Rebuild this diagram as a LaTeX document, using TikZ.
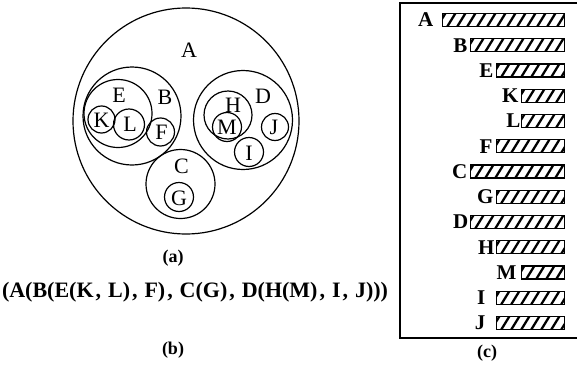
\documentclass[tikz,border=0pt]{standalone}
\usepackage{fontspec}
\setmainfont{Liberation Serif}
\newcommand{\cm}{\hskip 0pt plus 0.3fill\relax,\hskip 0pt plus 1fill\relax}
\begin{document}
\begin{tikzpicture}[x=1pt,y=-1pt,
  ring/.style={draw,circle,line width=1.2pt,inner sep=0pt},
  clab/.style={font=\fontsize{22}{22}\selectfont,inner sep=0pt},
  blab/.style={font=\bfseries\fontsize{21}{21}\selectfont,inner sep=0pt,anchor=east},
  captext/.style={font=\bfseries\fontsize{18}{18}\selectfont,inner sep=0pt},
  bar/.style={draw,line width=1.4pt,minimum height=13pt,inner sep=0pt,anchor=east,
    path picture={\foreach \k in {0,...,14}
      \draw[line width=2.3pt] ([xshift=\k*10pt-5pt]path picture bounding box.south west) -- ++(8pt,13pt);}}]
\useasboundingbox (0,0) rectangle (577,364);
% panel (a)
\node[ring,minimum size=226pt] (cA) at (186,121) {};
\node[ring,minimum size=98pt] (cB) at (132,116) {};
\node[ring,minimum size=68pt] (cE) at (118,113.5) {};
\node[ring,minimum size=27pt] (cK) at (101.5,119.5) {};
\node[ring,minimum size=31pt] (cL) at (129,124.5) {};
\node[ring,minimum size=28pt] (cF) at (160.5,132) {};
\node[ring,minimum size=69pt] (cC) at (180.5,184) {};
\node[ring,minimum size=29pt] (cG) at (179,197) {};
\node[ring,minimum size=99pt] (cD) at (243,120) {};
\node[ring,minimum size=48pt] (cH) at (228,115) {};
\node[ring,minimum size=29pt] (cM) at (227,127) {};
\node[ring,minimum size=29pt] (cI) at (249,152) {};
\node[ring,minimum size=27pt] (cJ) at (275,127) {};
\node[clab] (tA) at (189,50) {A};
\node[clab] (tB) at (165,97) {B};
\node[clab] (tE) at (119,95) {E};
\node[clab] (tK) at (101.5,120) {K};
\node[clab] (tL) at (130,124) {L};
\node[clab] (tF) at (161.5,132) {F};
\node[clab] (tC) at (181.5,166) {C};
\node[clab] (tG) at (179,198) {G};
\node[clab] (tD) at (263,96) {D};
\node[clab] (tH) at (233,105) {H};
\node[clab] (tM) at (227,127) {M};
\node[clab] (tI) at (249,153) {I};
\node[clab] (tJ) at (274,127) {J};
\node[captext] (capa) at (173,258) {(a)};
% panel (b)
\node[inner sep=0pt,font=\bfseries\fontsize{22}{22}\selectfont] (seq) at (195,292)
  {\makebox[386pt][s]{(A(B(E(K\cm L)\cm F)\cm C(G)\cm D(H(M)\cm I\cm J)))}};
\node[captext] (capb) at (173,350) {(b)};
% panel (c)
\coordinate (fr1) at (577,3);
\coordinate (fr2) at (400,3);
\coordinate (fr3) at (400,338);
\coordinate (fr4) at (577,338);
\draw[line width=1.5pt] (fr1) -- (fr2) -- (fr3) -- (fr4);
\foreach \n/\i/\x/\g in {A/0/443/8,B/1/471/2,E/2/497/2,K/3/522/2,L/4/522/0,F/5/497/3,C/6/471/2,G/7/497/2,D/8/471/1,H/9/497/1,M/10/522/4,I/11/497/10,J/12/497/10}{
  \pgfmathsetmacro{\yy}{20+25.25*\i}
  \pgfmathsetmacro{\ww}{565-\x}
  \node[bar,minimum width=\ww pt] (b\n) at (565,\yy) {};
  \node[blab] (l\n) at ([xshift=-\g pt]b\n.west) {\n};
}
\node[captext] (capc) at (487,353) {(c)};
\end{tikzpicture}
\end{document}
